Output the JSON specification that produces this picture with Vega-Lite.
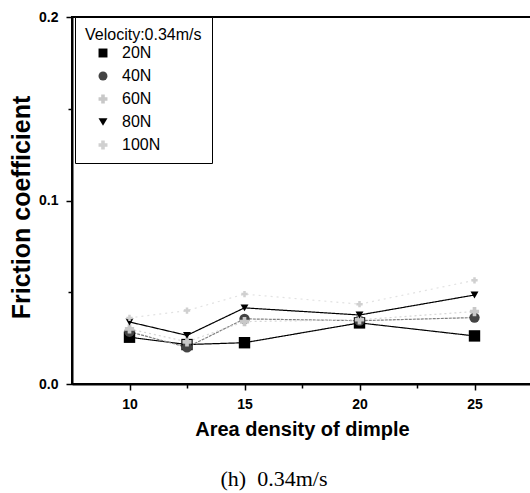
{
  "$schema": "https://vega.github.io/schema/vega-lite/v6.json",
  "width": 460,
  "height": 367,
  "autosize": {"type": "none"},
  "padding": {"left": 72, "top": 17, "right": 0, "bottom": 109},
  "background": "white",
  "config": {
    "font": "Liberation Sans",
    "view": {"stroke": "black", "strokeWidth": 2}
  },
  "title": {
    "text": "(h)\u00a0 0.34m/s",
    "orient": "bottom",
    "anchor": "middle",
    "dx": -28,
    "offset": 30,
    "font": "Liberation Serif",
    "fontSize": 22,
    "fontWeight": "normal",
    "color": "black"
  },
  "data": {
    "values": [
      {"density": 10, "load": "20N", "cof": 0.0255},
      {"density": 12.5, "load": "20N", "cof": 0.0215},
      {"density": 15, "load": "20N", "cof": 0.0225},
      {"density": 20, "load": "20N", "cof": 0.0333},
      {"density": 25, "load": "20N", "cof": 0.0262},
      {"density": 10, "load": "40N", "cof": 0.0285},
      {"density": 12.5, "load": "40N", "cof": 0.0200},
      {"density": 15, "load": "40N", "cof": 0.0355},
      {"density": 20, "load": "40N", "cof": 0.0345},
      {"density": 25, "load": "40N", "cof": 0.0362},
      {"density": 10, "load": "60N", "cof": 0.0300},
      {"density": 12.5, "load": "60N", "cof": 0.0230},
      {"density": 15, "load": "60N", "cof": 0.0340},
      {"density": 20, "load": "60N", "cof": 0.0350},
      {"density": 25, "load": "60N", "cof": 0.0395},
      {"density": 10, "load": "80N", "cof": 0.0338},
      {"density": 12.5, "load": "80N", "cof": 0.0265},
      {"density": 15, "load": "80N", "cof": 0.0415},
      {"density": 20, "load": "80N", "cof": 0.0376},
      {"density": 25, "load": "80N", "cof": 0.0485},
      {"density": 10, "load": "100N", "cof": 0.0360},
      {"density": 12.5, "load": "100N", "cof": 0.0400},
      {"density": 15, "load": "100N", "cof": 0.0490},
      {"density": 20, "load": "100N", "cof": 0.0435},
      {"density": 25, "load": "100N", "cof": 0.0565}
    ]
  },
  "encoding": {
    "x": {
      "field": "density",
      "type": "quantitative",
      "scale": {"domain": [7.5, 27.5], "nice": false, "zero": false},
      "axis": {
        "title": "Area density of dimple",
        "titleFont": "Liberation Sans",
        "titleFontSize": 20,
        "titleFontWeight": "bold",
        "titleColor": "black",
        "titlePadding": 8,
        "values": [10, 12.5, 15, 17.5, 20, 22.5, 25],
        "labelExpr": "datum.value % 5 == 0 ? datum.label : ''",
        "labelFontSize": 14,
        "labelFontWeight": "bold",
        "labelColor": "black",
        "labelPadding": 7,
        "labelFlush": false,
        "grid": false,
        "domainColor": "black",
        "domainWidth": 2,
        "tickColor": "black",
        "tickWidth": 1.5,
        "tickSize": {"condition": {"test": "datum.value % 5 == 0", "value": 6}, "value": 4}
      }
    },
    "y": {
      "field": "cof",
      "type": "quantitative",
      "scale": {"domain": [0, 0.2], "nice": false},
      "axis": {
        "title": "Friction coefficient",
        "titleFont": "Liberation Sans",
        "titleFontSize": 25,
        "titleFontWeight": "bold",
        "titleColor": "black",
        "titlePadding": 4,
        "titleY": 190,
        "values": [0, 0.05, 0.1, 0.15, 0.2],
        "labelExpr": "round(datum.value * 20) % 2 == 0 ? format(datum.value, '.1f') : ''",
        "labelFontSize": 14,
        "labelFontWeight": "bold",
        "labelColor": "black",
        "labelPadding": 8,
        "labelFlush": false,
        "grid": false,
        "domainColor": "black",
        "domainWidth": 2,
        "tickColor": "black",
        "tickWidth": 1.5,
        "tickSize": {"condition": {"test": "round(datum.value * 20) % 2 == 0", "value": 6}, "value": 4}
      }
    }
  },
  "layer": [
    {
      "mark": {"type": "line", "strokeWidth": 1.2},
      "encoding": {
        "detail": {"field": "load"},
        "stroke": {
          "field": "load",
          "type": "nominal",
          "scale": {"domain": ["100N", "80N", "60N", "40N", "20N"], "range": ["#e2e2e2", "#000000", "#d6d6d6", "#808080", "#000000"]},
          "legend": null
        },
        "strokeDash": {
          "field": "load",
          "type": "nominal",
          "scale": {"domain": ["100N", "80N", "60N", "40N", "20N"], "range": [[2, 4], [1, 0], [2, 3], [3, 1], [1, 0]]},
          "legend": null
        }
      }
    },
    {
      "mark": {"type": "point", "filled": true, "opacity": 1},
      "encoding": {
        "shape": {
          "field": "load",
          "type": "nominal",
          "scale": {"domain": ["20N", "40N", "60N", "80N", "100N"], "range": ["square", "circle", "cross", "triangle-down", "cross"]},
          "legend": {
            "title": "Velocity:0.34m/s",
            "orient": "none",
            "legendX": 3,
            "legendY": 0,
            "strokeColor": "black",
            "fillColor": "white",
            "padding": 10,
            "titleFont": "Liberation Sans",
            "titleFontSize": 16,
            "titleFontWeight": "normal",
            "titleColor": "black",
            "titlePadding": 2,
            "labelFont": "Liberation Sans",
            "labelFontSize": 16,
            "labelColor": "black",
            "labelOffset": 11,
            "symbolOffset": 10,
            "rowPadding": 7,
            "symbolSize": 80
          }
        },
        "color": {
          "field": "load",
          "type": "nominal",
          "scale": {"domain": ["20N", "40N", "60N", "80N", "100N"], "range": ["#000000", "#444444", "#c8c8c8", "#000000", "#d0d0d0"]}
        },
        "size": {
          "field": "load",
          "type": "nominal",
          "scale": {"domain": ["100N", "80N", "60N", "40N", "20N"], "range": [40, 130, 40, 80, 70]},
          "legend": null
        }
      }
    }
  ]
}
